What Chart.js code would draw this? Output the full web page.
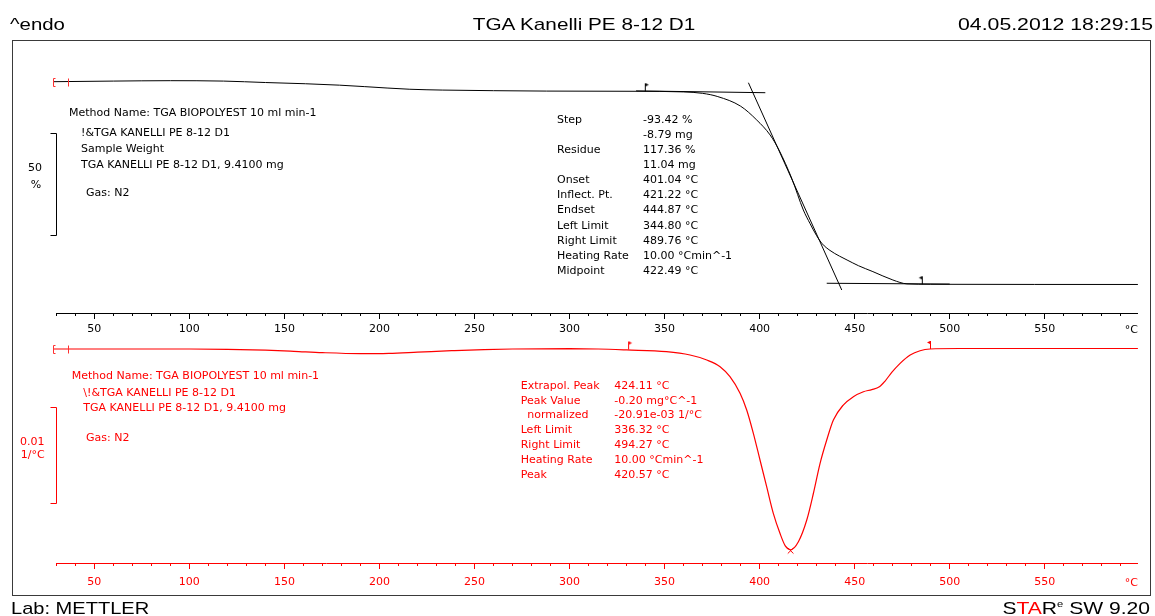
<!DOCTYPE html>
<html><head><meta charset="utf-8">
<script src="https://cdn.jsdelivr.net/npm/chart.js@4.4.0/dist/chart.umd.min.js"></script>
<style>
html,body{margin:0;padding:0;background:#fff;}
body{width:1155px;height:616px;position:relative;overflow:hidden;}
canvas{position:absolute;left:0;}
#c1{top:0;}
#c2{top:330px;}
.t{position:absolute;white-space:pre;}
#frame{position:absolute;left:12px;top:40px;width:1139px;height:556px;border:1px solid #3a3a3a;box-sizing:border-box;}
</style></head><body>
<div id="frame"></div>
<canvas id="c1" width="1155" height="345"></canvas>
<canvas id="c2" width="1155" height="270"></canvas>
<script>
// ---------- data ----------
// TGA curve (top): temperature °C, mass %
const tgaTemp = [28.3, 60, 90, 118, 140, 161, 179, 192, 204, 216, 233, 260, 288, 335, 360, 370, 378, 390, 398.5, 405.5, 410.2, 416.9, 423.0, 426.5, 430.0, 433.0, 437.0, 442.0, 446.0, 452.0, 459.6, 470.1, 477.5, 490, 599];
const tgaMass = [100, 100.3, 100.5, 100.3, 99.6, 99.0, 98.3, 97.6, 96.9, 96.3, 95.9, 95.6, 95.4, 95.3, 95.0, 94.3, 92.7, 88.0, 81.2, 73.9, 66.5, 52.6, 37.1, 30.5, 24.5, 20.5, 17.3, 14.5, 12.6, 9.8, 6.9, 2.8, 0.9, 0.7, 0.6];
// tangent lines (top), [temp, mass]
const tangentBase = [[335, 95.5], [403, 94.6]];
const tangentInfl = [[394.1, 99.5], [443.2, -2.1]];
const tangentEnd  = [[435.3, 1.2], [500, 0.8]];
// limit flags (top)
const tgaFlagLeft  = [339.6, 95.3];
const tgaFlagRight = [485.3, 0.7];

// DTG curve (bottom): temperature °C, value in 1e-3 1/°C
const dtgTemp  = [28.3, 100, 120, 140, 155, 170, 190, 205, 220, 238, 255, 270, 300, 315, 330, 351, 363.4, 372.2, 379.2, 384.4, 389.7, 393.2, 396.7, 400.2, 403.7, 407.2, 410.7, 413.5, 416.3, 420.4, 424.8, 428.3, 431.8, 435.3, 438.8, 444.0, 449.3, 454.6, 459.0, 463.0, 466.0, 469.5, 473.9, 479.2, 484.4, 489.7, 505, 599];
const dtgValue = [0, 0, -0.03, -0.12, -0.24, -0.38, -0.48, -0.45, -0.33, -0.18, -0.06, 0, 0.03, 0, -0.1, -0.28, -0.63, -1.15, -1.85, -2.90, -4.63, -6.38, -8.82, -11.61, -14.40, -17.19, -19.28, -20.6, -21.0, -20.16, -17.89, -15.09, -11.96, -9.52, -7.43, -5.86, -4.99, -4.47, -4.25, -3.95, -3.35, -2.45, -1.50, -0.63, -0.18, 0, 0.05, 0.05];
const dtgPeak = [416.3, -21.1];
const dtgFlagLeft  = [330.8, -0.05];
const dtgFlagRight = [489.6, 0];

// axis settings
const tempMin = 30, tempMax = 599;
const minorStep = 10, majorStep = 50;
const curveStartT = 28.3, curveTickT = 36.4;

// texts
const topInfoLines = ['Method Name: TGA BIOPOLYEST 10 ml min-1', '!&TGA KANELLI PE 8-12 D1', 'Sample Weight', 'TGA KANELLI PE 8-12 D1, 9.4100 mg', 'Gas: N2'];
const topResLabels = ['Step', '', 'Residue', '', 'Onset', 'Inflect. Pt.', 'Endset', 'Left Limit', 'Right Limit', 'Heating Rate', 'Midpoint'];
const topResValues = ['-93.42 %', '-8.79 mg', '117.36 %', '11.04 mg', '401.04 °C', '421.22 °C', '444.87 °C', '344.80 °C', '489.76 °C', '10.00 °Cmin^-1', '422.49 °C'];
const botInfoLines = ['Method Name: TGA BIOPOLYEST 10 ml min-1', '\\!&TGA KANELLI PE 8-12 D1', 'TGA KANELLI PE 8-12 D1, 9.4100 mg', 'Gas: N2'];
const botResLabels = ['Extrapol. Peak', 'Peak Value', '  normalized', 'Left Limit', 'Right Limit', 'Heating Rate', 'Peak'];
const botResValues = ['424.11 °C', '-0.20 mg°C^-1', '-20.91e-03 1/°C', '336.32 °C', '494.27 °C', '10.00 °Cmin^-1', '420.57 °C'];

// ---------- helpers ----------
const pts = (xs, ys) => xs.map((x, i) => ({x, y: ys[i]}));
const pairPts = arr => arr.map(p => ({x: p[0], y: p[1]}));

function makeFlag(color, dir) {
  const c = document.createElement('canvas');
  c.width = 12; c.height = 18;
  const g = c.getContext('2d');
  g.fillStyle = color;
  g.fillRect(6, 1, 1, 8);
  g.beginPath();
  if (dir > 0) { g.moveTo(7, 1); g.lineTo(10, 2.5); g.lineTo(7, 4); }
  else { g.moveTo(6, 1); g.lineTo(3, 2.5); g.lineTo(6, 4); }
  g.closePath(); g.fill();
  return c;
}

const decoPlugin = {
  id: 'deco',
  afterDatasetsDraw(chart, args, o) {
    const ctx = chart.ctx, xs = chart.scales.x, ys = chart.scales.y;
    ctx.save();
    ctx.lineWidth = 1;
    // scale bar bracket
    const y1 = Math.round(ys.getPixelForValue(o.barFrom)) + 0.5;
    const y2 = Math.round(ys.getPixelForValue(o.barTo)) + 0.5;
    const bx = Math.round(chart.chartArea.left) + 0.5;
    ctx.strokeStyle = o.barColor;
    ctx.beginPath();
    ctx.moveTo(bx - 6, y1); ctx.lineTo(bx, y1); ctx.lineTo(bx, y2); ctx.lineTo(bx - 6, y2);
    ctx.stroke();
    // start marks "[" and "|"
    ctx.strokeStyle = '#ff3030';
    const sy = Math.round(ys.getPixelForValue(o.startY)) + 0.5;
    const sx = Math.round(xs.getPixelForValue(curveStartT)) + 0.5;
    ctx.beginPath();
    ctx.moveTo(sx + 2, sy - 4); ctx.lineTo(sx, sy - 4); ctx.lineTo(sx, sy + 4); ctx.lineTo(sx + 2, sy + 4);
    const tx = Math.round(xs.getPixelForValue(curveTickT)) + 0.5;
    ctx.moveTo(tx, sy - 4); ctx.lineTo(tx, sy + 4);
    ctx.stroke();
    ctx.restore();
  }
};

function axes(color, yMin, yMax, labelPad) {
  return {
    x: {
      type: 'linear', position: 'bottom', weight: 0, min: tempMin, max: tempMax,
      afterFit: s => { s.height = 3; },
      border: {display: true, color: color, width: 1},
      grid: {drawOnChartArea: false, drawTicks: true, tickLength: 3, tickColor: color, tickWidth: 1},
      ticks: {display: false, stepSize: minorStep, autoSkip: false, includeBounds: false}
    },
    xm: {
      type: 'linear', position: 'bottom', weight: 1, min: tempMin, max: tempMax,
      afterFit: s => { s.height = 27; },
      border: {display: false},
      grid: {drawOnChartArea: false, drawTicks: true, tickLength: 3, tickColor: color, tickWidth: 1},
      ticks: {stepSize: majorStep, autoSkip: false, includeBounds: false, maxRotation: 0, padding: labelPad,
              color: color, font: {family: 'DejaVu Sans', size: 11}}
    },
    y: {display: false, min: yMin, max: yMax}
  };
}

function baseOpts(pad, scales, deco) {
  return {
    responsive: false, animation: false, events: [],
    layout: {padding: pad, autoPadding: false},
    plugins: {legend: {display: false}, tooltip: {enabled: false}, deco: deco},
    scales: scales
  };
}

const lineDs = (data, color, w) => ({data, xAxisID: 'x', yAxisID: 'y', borderColor: color, borderWidth: w,
  pointRadius: 0, tension: 0, fill: false, clip: false});
const curveDs = (data, color, w) => Object.assign(lineDs(data, color, w), {cubicInterpolationMode: 'monotone'});
const markDs = (p, style, color, r, rot) => ({data: [{x: p[0], y: p[1]}], xAxisID: 'x', yAxisID: 'y', showLine: false,
  pointStyle: style, pointRadius: r, pointRotation: rot || 0, borderColor: color, backgroundColor: color, borderWidth: 1});

// ---------- top chart (TGA) ----------
new Chart(document.getElementById('c1'), {
  type: 'line',
  data: {datasets: [
    curveDs(pts(tgaTemp, tgaMass), '#000', 1),
    lineDs(pairPts(tangentBase), '#000', 1),
    lineDs(pairPts(tangentInfl), '#000', 1),
    lineDs(pairPts(tangentEnd), '#000', 1),
    markDs(tgaFlagLeft, makeFlag('#000', 1), '#000', 5),
    markDs(tgaFlagRight, makeFlag('#000', -1), '#000', 5)
  ]},
  options: baseOpts({left: 56.3, right: 17.1, top: 50, bottom: 2},
    axes('#000', -13.38, 115.54, 4),
    {barFrom: 75, barTo: 25, barColor: '#000', startY: 100}),
  plugins: [decoPlugin]
});

// ---------- bottom chart (DTG) ----------
new Chart(document.getElementById('c2'), {
  type: 'line',
  data: {datasets: [
    curveDs(pts(dtgTemp, dtgValue), '#ff0000', 1.2),
    markDs(dtgPeak, 'crossRot', '#ff0000', 4),
    markDs(dtgFlagLeft, makeFlag('#ff0000', 1), '#ff0000', 5),
    markDs(dtgFlagRight, makeFlag('#ff0000', -1), '#ff0000', 5)
  ]},
  options: baseOpts({left: 56.3, right: 17.1, top: 5, bottom: 7},
    axes('#ff0000', -22.385, 1.464, 7),
    {barFrom: -6.1, barTo: -16.1, barColor: '#ff0000', startY: 0}),
  plugins: [decoPlugin]
});

// ---------- text ----------
function txt(s, x, base, o) {
  o = o || {};
  const size = o.size || 11, fam = o.fam || 'DejaVu Sans';
  const d = document.createElement('div');
  d.className = 't';
  if (o.html) d.innerHTML = s; else d.textContent = s;
  d.style.fontFamily = '"' + fam + '"';
  d.style.fontSize = size + 'px';
  d.style.lineHeight = size + 'px';
  d.style.top = (base - 0.846 * size) + 'px';
  d.style.color = o.color || '#000';
  const a = o.align || 'l';
  if (a === 'l') { d.style.left = x + 'px'; d.style.transformOrigin = 'left center'; }
  else if (a === 'c') { d.style.left = (x - 400) + 'px'; d.style.width = '800px'; d.style.textAlign = 'center'; d.style.transformOrigin = 'center center'; }
  else { d.style.left = (x - 800) + 'px'; d.style.width = '800px'; d.style.textAlign = 'right'; d.style.transformOrigin = 'right center'; }
  if (o.sx) d.style.transform = 'scaleX(' + o.sx + ')';
  document.body.appendChild(d);
}
const H = {size: 17, fam: 'Liberation Sans', sx: 1.2};
txt('^endo', 10, 30.5, H);
txt('TGA Kanelli PE 8-12 D1', 583.5, 30.5, Object.assign({}, H, {align: 'c', sx: 1.22}));
txt('04.05.2012 18:29:15', 1153, 30.5, Object.assign({}, H, {align: 'r', sx: 1.25}));
txt('Lab: METTLER', 11, 614.5, Object.assign({}, H, {sx: 1.18}));
txt('S<span style="color:#ff0000">TA</span>R<span style="font-size:9px;position:relative;top:-7px">e</span> SW 9.20', 1150, 614.5, Object.assign({}, H, {align: 'r', html: true, sx: 1.24}));

// top info
const topInfoX = [69, 81, 81, 81, 86];
const topInfoBase = [116.7, 136, 152, 168, 196];
topInfoLines.forEach((s, i) => txt(s, topInfoX[i], topInfoBase[i]));
topResLabels.forEach((s, i) => { if (s) txt(s, 557, 123.5 + 15.05 * i); });
topResValues.forEach((s, i) => txt(s, 643, 123.5 + 15.05 * i));
txt('50', 35, 171.7, {align: 'c'});
txt('%', 36, 188, {align: 'c'});
txt('°C', 1138, 333.5, {align: 'r'});

// bottom info
const R = '#ff0000';
const botInfoX = [71.7, 83.3, 83.3, 86];
const botInfoBase = [379, 396.5, 411.7, 441.7];
botInfoLines.forEach((s, i) => txt(s, botInfoX[i], botInfoBase[i], {color: R}));
botResLabels.forEach((s, i) => txt(s.trim(), s.startsWith(' ') ? 527.3 : 520.7, 389 + 14.9 * i, {color: R}));
botResValues.forEach((s, i) => txt(s, 614.3, 389 + 14.9 * i, {color: R}));
txt('0.01', 20, 445, {color: R});
txt('1/°C', 20.7, 458.5, {color: R});
txt('°C', 1138, 586, {color: R, align: 'r'});
</script>
</body></html>
